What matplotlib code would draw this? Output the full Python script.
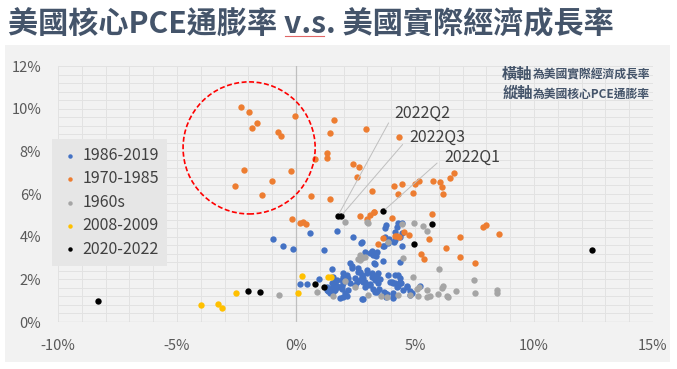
import matplotlib
matplotlib.use("Agg")
import matplotlib.pyplot as plt
from matplotlib.patches import Ellipse
from matplotlib.lines import Line2D
from matplotlib.ticker import MultipleLocator, FuncFormatter

plt.rcParams['font.family'] = ['Noto Sans CJK TC', 'DejaVu Sans']

# real GDP growth (%), core PCE inflation (%)
blue_pts = [
    (-0.95, 3.91), (-0.53, 3.55), (-0.11, 3.44), (0.60, 4.17), (1.16, 3.36), (1.71, 4.25),
    (2.41, 4.00), (2.73, 3.69), (2.79, 3.76), (3.78, 4.55), (3.74, 4.39), (4.47, 4.63),
    (4.30, 4.63), (4.23, 4.47), (4.47, 4.16), (4.16, 4.23), (4.37, 4.00), (3.74, 3.97),
    (3.67, 3.58), (3.92, 3.88), (3.88, 3.72), (4.13, 3.74), (4.17, 3.84), (4.47, 3.56),
    (3.71, 3.56), (2.89, 3.27), (3.11, 3.25), (3.25, 3.14), (3.18, 3.34), (3.35, 3.11),
    (3.39, 3.30), (3.64, 2.87), (3.32, 2.73), (4.37, 2.81), (3.29, 2.75), (1.53, 2.47),
    (0.98, 2.02), (0.48, 1.78), (0.17, 1.77), (2.27, 2.75), (2.34, 2.63), (2.34, 2.52),
    (2.62, 2.52), (2.62, 2.36), (2.97, 2.44), (2.97, 2.31), (3.18, 2.28), (3.46, 2.31),
    (3.39, 2.20), (1.99, 2.31), (2.13, 2.20), (2.69, 2.36), (2.76, 2.20), (2.83, 2.05),
    (3.25, 2.12), (3.39, 1.97), (3.88, 2.19), (4.16, 2.19), (4.30, 2.19), (4.37, 2.05),
    (4.37, 1.89), (4.02, 1.89), (4.16, 1.81), (4.23, 1.63), (4.65, 1.69), (4.79, 1.45),
    (4.79, 1.27), (5.21, 1.70), (4.86, 1.34), (4.48, 1.50), (1.54, 2.12), (1.71, 1.97),
    (1.68, 1.66), (1.64, 1.50), (1.92, 1.53), (1.99, 1.81), (2.06, 1.97), (2.20, 2.05),
    (2.27, 1.81), (2.48, 1.73), (2.55, 1.89), (2.69, 1.97), (2.76, 2.10), (2.83, 1.89),
    (2.90, 1.63), (2.97, 1.73), (3.11, 1.73), (3.53, 2.00), (3.46, 1.81), (3.25, 1.53),
    (3.32, 1.42), (3.50, 1.53), (3.71, 1.42), (3.81, 1.31), (3.78, 1.16), (4.09, 1.34),
    (4.06, 1.14), (2.80, 1.08), (1.85, 1.14), (1.99, 1.19), (2.13, 1.22), (1.29, 1.63),
    (1.36, 1.47), (1.50, 1.58), (1.78, 1.63), (1.92, 1.69), (2.06, 1.34), (2.20, 1.50),
    (1.92, 1.97), (1.99, 2.10), (2.48, 2.05), (2.90, 1.89), (3.11, 1.78), (3.32, 1.97),
    (1.50, 1.84), (1.64, 1.89), (1.43, 1.34), (1.57, 1.42), (2.76, 1.08), (1.32, 1.50),
    (1.57, 1.63), (1.71, 1.69), (3.95, 1.89), (4.06, 1.84), (4.40, 1.81), (4.30, 1.69),
    (3.42, 1.42), (3.74, 1.38), (3.74, 1.27), (4.09, 1.19), (4.68, 1.63), (3.18, 2.12),
]
orange_pts = [
    (-2.30, 10.09), (-1.96, 9.86), (-1.63, 9.31), (-1.84, 9.08), (-0.03, 9.67), (-0.77, 8.89),
    (-0.62, 8.70), (-2.18, 7.14), (-0.21, 7.09), (-2.55, 6.36), (-1.01, 6.60), (-1.44, 5.95),
    (1.60, 9.45), (1.43, 8.86), (2.95, 9.06), (4.31, 8.66), (1.30, 7.94), (1.29, 7.70),
    (0.81, 7.63), (2.38, 7.41), (2.66, 7.28), (2.55, 6.78), (0.63, 5.92), (1.43, 5.78),
    (3.21, 6.14), (4.10, 6.36), (4.47, 6.48), (5.00, 6.47), (5.18, 6.62), (4.29, 5.99),
    (4.93, 6.05), (5.76, 6.60), (6.06, 6.55), (6.15, 6.31), (6.16, 5.99), (6.48, 6.77),
    (6.64, 6.97), (5.71, 5.08), (7.87, 4.47), (7.98, 4.55), (8.54, 4.14), (6.88, 3.99),
    (6.30, 3.47), (6.88, 3.03), (7.53, 2.78), (4.54, 4.20), (4.76, 4.06), (5.57, 3.88),
    (5.24, 3.19), (5.38, 2.97), (3.28, 5.16), (4.02, 4.86), (3.67, 3.92), (4.15, 4.05),
    (4.25, 4.02), (4.33, 3.99), (3.46, 3.67), (-0.17, 4.81), (0.17, 4.63), (0.31, 4.69),
    (0.42, 4.58), (2.69, 4.98), (2.99, 4.84), (3.11, 5.02), (3.26, 5.16),
]
gray_pts = [
    (-0.70, 1.25), (0.88, 1.39), (1.55, 1.20), (2.06, 4.69), (2.97, 4.69), (3.04, 4.63),
    (2.69, 3.14), (2.76, 2.99), (2.90, 3.06), (2.69, 2.91), (2.62, 2.94), (2.06, 1.92),
    (2.48, 1.66), (3.01, 1.27), (4.44, 4.59), (4.96, 4.66), (5.32, 4.50), (5.49, 4.27),
    (3.85, 3.77), (4.51, 3.02), (6.02, 2.48), (4.90, 2.11), (5.18, 1.63), (5.10, 1.53),
    (5.52, 1.49), (6.19, 1.69), (6.15, 1.58), (6.71, 1.44), (7.48, 1.95), (7.53, 1.38),
    (8.45, 1.49), (8.43, 1.35), (5.98, 1.30), (6.33, 1.23), (6.37, 1.16), (5.14, 1.22),
    (5.49, 1.19), (5.63, 1.20), (4.79, 1.27), (4.30, 1.27), (3.56, 1.22), (3.81, 1.19),
]
yellow_pts = [
    (-3.99, 0.80), (-3.28, 0.84), (-3.12, 0.66), (-2.53, 1.37),
    (0.07, 1.34), (0.24, 2.16), (1.36, 2.12), (1.46, 2.12),
]
black_pts = [
    (-8.32, 1.00), (-2.02, 1.44), (-1.50, 1.42), (0.81, 1.78), (1.18, 1.63), (12.42, 3.38),
    (5.70, 4.58), (4.94, 3.64), (3.67, 5.20), (1.76, 4.98), (1.89, 4.97),
]
series_names = ['1986-2019', '1970-1985', '1960s', '2008-2009', '2020-2022']
series_colors = ['#4472c4', '#ed7d31', '#a5a5a5', '#ffc000', '#000000']

quarter_labels = ['2022Q2', '2022Q3', '2022Q1']
quarter_pts = [(1.76, 4.98), (1.89, 4.97), (3.67, 5.20)]
label_pos = [(4.12, 9.80), (4.75, 8.67), (6.22, 7.74)]

W, H = 677, 369
fig = plt.figure(figsize=(W / 100, H / 100), dpi=100)
fig.patch.set_facecolor('white')

# grey panel behind the chart
bg = fig.add_axes([5 / W, 1 - 362 / H, 665 / W, 317 / H], zorder=-5)
bg.set_facecolor('#f2f2f2')
bg.set_xticks([])
bg.set_yticks([])
for s in bg.spines.values():
    s.set_visible(False)

ax = fig.add_axes([58 / W, 1 - 322 / H, 595 / W, 256 / H], zorder=1)
ax.set_facecolor('#f2f2f2')
ax.set_xlim(-10, 15)
ax.set_ylim(0, 12)

ax.xaxis.set_major_locator(MultipleLocator(5))
ax.xaxis.set_minor_locator(MultipleLocator(1))
ax.yaxis.set_major_locator(MultipleLocator(2))
ax.yaxis.set_minor_locator(MultipleLocator(0.4))
ax.xaxis.set_major_formatter(FuncFormatter(lambda v, p: f'{v:.0f}%'))
ax.yaxis.set_major_formatter(FuncFormatter(lambda v, p: f'{v:.0f}%'))
ax.grid(True, which='both', color='#e2e2e2', lw=0.7, zorder=0)
ax.set_axisbelow(True)
ax.tick_params(which='both', length=0, labelsize=10.5, labelcolor='#595959')
ax.tick_params(axis='x', pad=12)
ax.tick_params(axis='y', pad=12)
for s in ax.spines.values():
    s.set_visible(False)
ax.axvline(0, color='#bfbfbf', lw=0.9, zorder=1)
ax.axhline(0, color='#d0d0d0', lw=0.9, zorder=1)

for pts, name, col in zip([blue_pts, orange_pts, gray_pts, yellow_pts, black_pts],
                          series_names, series_colors):
    ax.scatter([p[0] for p in pts], [p[1] for p in pts], s=21, color=col,
               label=name, zorder=3, linewidths=0)

for lab, pt, tp in zip(quarter_labels, quarter_pts, label_pos):
    ax.annotate(lab, xy=pt, xytext=tp, ha='left', va='center', fontsize=11.5,
                color='#404040',
                arrowprops=dict(arrowstyle='-', color='#bfbfbf', lw=0.7,
                                relpos=(0, 0.5), shrinkA=4, shrinkB=2))

ax.add_patch(Ellipse((-1.97, 8.16), 5.55, 6.19, fill=False, edgecolor='#ff0000',
                     ls=(0, (3, 1.5)), lw=1.2, zorder=4))

leg = ax.legend(loc='upper left', bbox_to_anchor=(52 / W, 1 - 139 / H),
                bbox_transform=fig.transFigure, fontsize=11.5, frameon=True,
                handletextpad=0.1, borderpad=0.5, labelspacing=0.4,
                markerscale=0.7, handlelength=1.3, borderaxespad=0, fancybox=False)
leg.get_frame().set_facecolor('#e6e6e6')
leg.get_frame().set_edgecolor('none')
leg.get_frame().set_alpha(1)
for t in leg.get_texts():
    t.set_color('#404040')

fig.text(8 / W, 1 - 24 / H, '美國核心PCE通膨率 v.s. 美國實際經濟成長率',
         fontsize=21.7, fontweight='bold', color='#44546a', va='center', ha='left')
# spell-check underline under "v.s."
fig.add_artist(Line2D([285 / W, 324 / W], [1 - 36 / H, 1 - 36 / H],
                      transform=fig.transFigure, color='#e06666', lw=0.8))

# axis explanation, big heading + small text, right aligned
renderer = fig.canvas.get_renderer()
for head, sub, y in [('橫軸', '為美國實際經濟成長率', 74), ('縱軸', '為美國核心PCE通膨率', 93)]:
    st = fig.text(650 / W, 1 - (y + 1) / H, sub, fontsize=8.5, fontweight='bold',
                  color='#44546a', va='center', ha='right')
    bb = st.get_window_extent(renderer)
    fig.text(bb.x0 / W, 1 - y / H, head, fontsize=11, fontweight='bold',
             color='#44546a', va='center', ha='right')

fig.savefig('out.png', dpi=100)
